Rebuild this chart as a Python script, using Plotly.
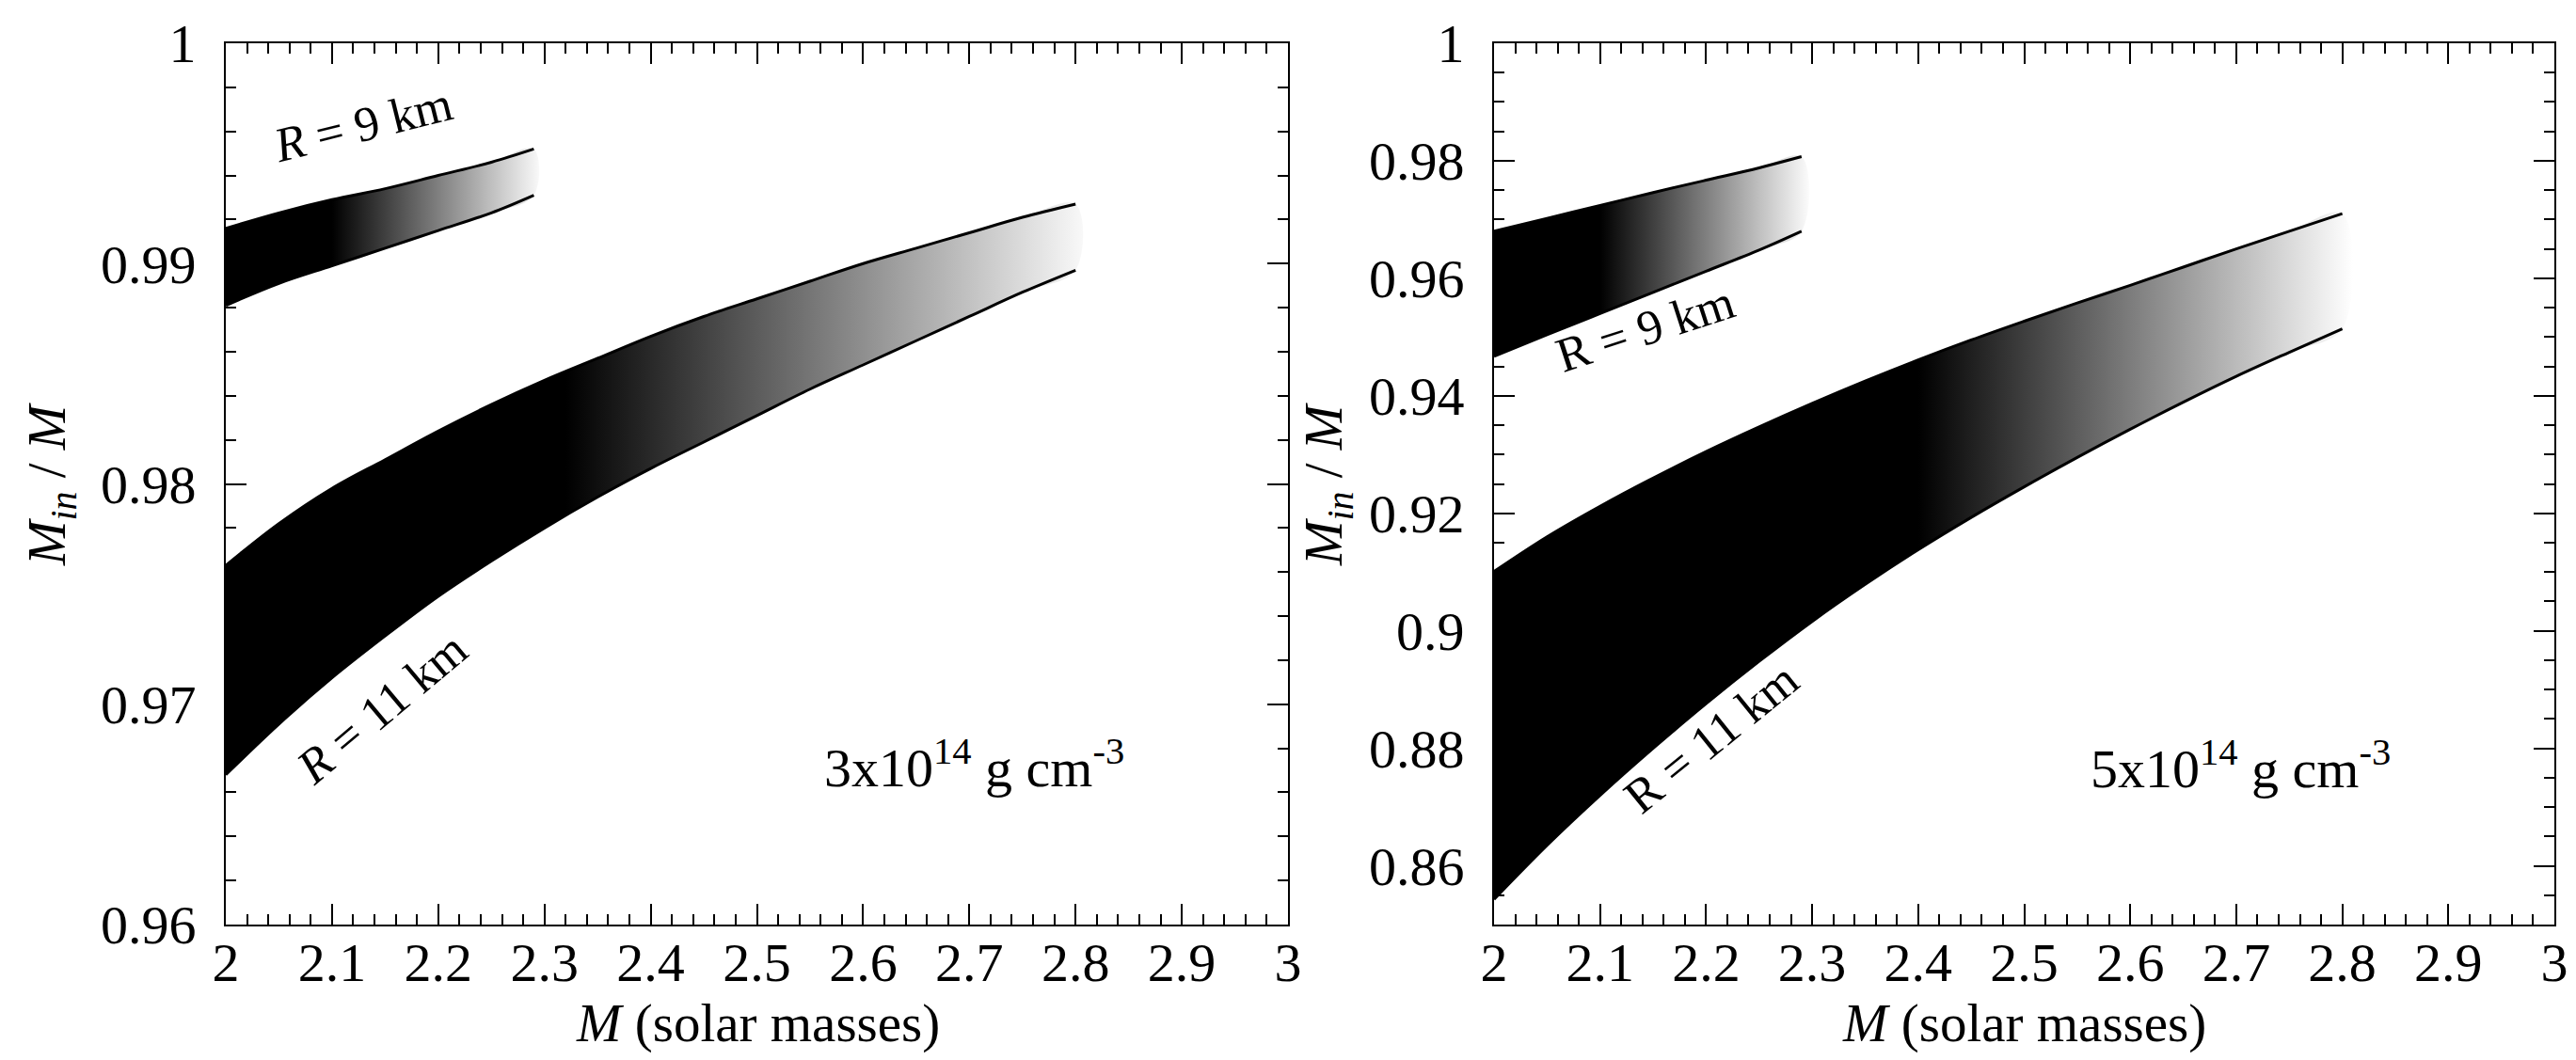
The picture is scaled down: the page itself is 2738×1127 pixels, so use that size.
import plotly.graph_objects as go

# ---------------- data ----------------
m_r9 = [2.0, 2.05, 2.10, 2.15, 2.20, 2.25, 2.29]
m_r11 = [2.0, 2.05, 2.10, 2.15, 2.20, 2.25, 2.30, 2.35, 2.40, 2.45,
         2.50, 2.55, 2.60, 2.65, 2.70, 2.75, 2.80]

# left panel: 3x10^14 g cm^-3
left_r9_upper = [0.9916, 0.9923, 0.9929, 0.9934, 0.9940, 0.9946, 0.9952]
left_r9_lower = [0.9881, 0.9891, 0.9899, 0.9907, 0.9915, 0.9923, 0.9931]
left_r11_upper = [0.9763, 0.9782, 0.9798, 0.9811, 0.9824, 0.9836, 0.9847, 0.9857,
                  0.9867, 0.9876, 0.9884, 0.9892, 0.9900, 0.9907, 0.9914, 0.9921, 0.9927]
left_r11_lower = [0.9668, 0.9691, 0.9712, 0.9731, 0.9749, 0.9765, 0.9780, 0.9794,
                  0.9807, 0.9819, 0.9831, 0.9843, 0.9854, 0.9865, 0.9876, 0.9887, 0.9897]

# right panel: 5x10^14 g cm^-3
right_r9_upper = [0.9680, 0.9702, 0.9724, 0.9746, 0.9767, 0.9788, 0.9807]
right_r9_lower = [0.9467, 0.9504, 0.9540, 0.9576, 0.9612, 0.9648, 0.9680]
right_r11_upper = [0.9101, 0.9160, 0.9212, 0.9260, 0.9305, 0.9347, 0.9387, 0.9425,
                   0.9461, 0.9495, 0.9527, 0.9558, 0.9588, 0.9619, 0.9650, 0.9680, 0.9710]
right_r11_lower = [0.8543, 0.8635, 0.8720, 0.8800, 0.8876, 0.8948, 0.9016, 0.9079,
                   0.9138, 0.9193, 0.9245, 0.9295, 0.9343, 0.9389, 0.9433, 0.9474, 0.9514]

# gradient (black -> white) ranges in M for each band
grad_left_r9 = (2.10, 2.30)
grad_left_r11 = (2.32, 2.82)
grad_right_r9 = (2.10, 2.30)
grad_right_r11 = (2.40, 2.81)

# ticks
x_tickvals = [2.0, 2.1, 2.2, 2.3, 2.4, 2.5, 2.6, 2.7, 2.8, 2.9, 3.0]
x_ticktext = ["2", "2.1", "2.2", "2.3", "2.4", "2.5", "2.6", "2.7", "2.8", "2.9", "3"]
yl_tickvals = [0.96, 0.97, 0.98, 0.99, 1.0]
yl_ticktext = ["0.96", "0.97", "0.98", "0.99", "1"]
yr_tickvals = [0.86, 0.88, 0.90, 0.92, 0.94, 0.96, 0.98, 1.0]
yr_ticktext = ["0.86", "0.88", "0.9", "0.92", "0.94", "0.96", "0.98", "1"]

FONT = "Liberation Serif"
W, H = 2738, 1127

fig = go.Figure()


def add_band(m, upper, lower, grad, xa, ya):
    xs = list(m) + list(m)[::-1]
    ys = list(upper) + list(lower)[::-1]
    fig.add_trace(go.Scatter(
        x=xs, y=ys, mode="lines", fill="toself",
        line=dict(width=0, color="rgba(0,0,0,0)", shape="spline"),
        fillgradient=dict(type="horizontal",
                          colorscale=[[0, "#000000"], [1, "#ffffff"]],
                          start=grad[0], stop=grad[1]),
        xaxis=xa, yaxis=ya, showlegend=False, hoverinfo="skip"))
    for yy in (upper, lower):
        fig.add_trace(go.Scatter(
            x=m, y=yy, mode="lines", line=dict(color="black", width=3, shape="spline"),
            xaxis=xa, yaxis=ya, showlegend=False, hoverinfo="skip"))


add_band(m_r9, left_r9_upper, left_r9_lower, grad_left_r9, "x", "y")
add_band(m_r11, left_r11_upper, left_r11_lower, grad_left_r11, "x", "y")
add_band(m_r9, right_r9_upper, right_r9_lower, grad_right_r9, "x2", "y2")
add_band(m_r11, right_r11_upper, right_r11_lower, grad_right_r11, "x2", "y2")

tickfont = dict(family=FONT, size=58, color="black")
common = dict(showline=True, linecolor="black", linewidth=2, mirror="ticks",
              ticks="inside", ticklen=22, tickwidth=2, tickcolor="black",
              showgrid=False, zeroline=False, tickfont=tickfont, automargin=False)

ydom = [1 - 975 / H, 1 - 38 / H]
xdom_l = [232 / W, 1361 / W]
xdom_r = [1580 / W, 2707 / W]

fig.update_layout(
    width=W, height=H,
    margin=dict(l=0, r=0, t=0, b=0, autoexpand=False),
    font=dict(family=FONT, color="black"),
    paper_bgcolor="white", plot_bgcolor="white",
    xaxis=dict(domain=xdom_l, range=[2, 3], anchor="y", tickmode="array",
               tickvals=x_tickvals, ticktext=x_ticktext, ticklabelstandoff=-12,
               minor=dict(tickmode="linear", tick0=2, dtick=0.02, ticks="inside",
                          ticklen=11, tickwidth=2, tickcolor="black"), **common),
    yaxis=dict(domain=ydom, range=[0.96, 1.0], anchor="x", tickmode="array",
               tickvals=yl_tickvals, ticktext=yl_ticktext, ticklabelstandoff=18,
               minor=dict(tickmode="linear", tick0=0.96, dtick=0.002, ticks="inside",
                          ticklen=11, tickwidth=2, tickcolor="black"), **common),
    xaxis2=dict(domain=xdom_r, range=[2, 3], anchor="y2", tickmode="array",
                tickvals=x_tickvals, ticktext=x_ticktext, ticklabelstandoff=-12,
                minor=dict(tickmode="linear", tick0=2, dtick=0.02, ticks="inside",
                           ticklen=11, tickwidth=2, tickcolor="black"), **common),
    yaxis2=dict(domain=ydom, range=[0.85, 1.0], anchor="x2", tickmode="array",
                tickvals=yr_tickvals, ticktext=yr_ticktext, ticklabelstandoff=18,
                minor=dict(tickmode="linear", tick0=0.85, dtick=0.005, ticks="inside",
                           ticklen=11, tickwidth=2, tickcolor="black"), **common),
)

r_font = dict(family=FONT, size=52, color="black")
d_font = dict(family=FONT, size=58, color="black")
t_font = dict(family=FONT, size=57, color="black")
annotations = [
    dict(text="<i>R</i> = 9 km", x=2.129, y=0.9963, xref="x", yref="y",
         textangle=-14, font=r_font),
    dict(text="<i>R</i> = 11 km", x=2.147, y=0.96982, xref="x", yref="y",
         textangle=-40, font=r_font),
    dict(text="3x10<sup>14</sup> g cm<sup>-3</sup>", x=2.705, y=0.9673, xref="x", yref="y",
         font=d_font),
    dict(text="R = 9 km", x=2.142, y=0.9514, xref="x2", yref="y2", textangle=-18,
         font=r_font),
    dict(text="R = 11 km", x=2.205, y=0.8818, xref="x2", yref="y2", textangle=-39,
         font=r_font),
    dict(text="5x10<sup>14</sup> g cm<sup>-3</sup>", x=2.704, y=0.8772, xref="x2", yref="y2",
         font=d_font),
    dict(text="<i>M</i> (solar masses)", x=797 / W, y=1 - 1080 / H, xref="paper",
         yref="paper", font=t_font),
    dict(text="<i>M</i> (solar masses)", x=2143 / W, y=1 - 1080 / H, xref="paper",
         yref="paper", font=t_font),
    dict(text="<i>M</i><sub><i>in</i></sub> / <i>M</i>", x=46 / W, y=1 - 507 / H,
         xref="paper", yref="paper", textangle=-90, font=t_font),
    dict(text="<i>M</i><sub><i>in</i></sub> / <i>M</i>", x=1403 / W, y=1 - 507 / H,
         xref="paper", yref="paper", textangle=-90, font=t_font),
]
for a in annotations:
    a.update(showarrow=False, xanchor="center", yanchor="middle")
fig.update_layout(annotations=annotations)

fig.add_shape(type="rect", xref="paper", yref="paper", x0=2730 / W, x1=1, y0=0, y1=1,
              fillcolor="#e6e6e6", line=dict(width=0), layer="below")

fig.write_html("out.html")
